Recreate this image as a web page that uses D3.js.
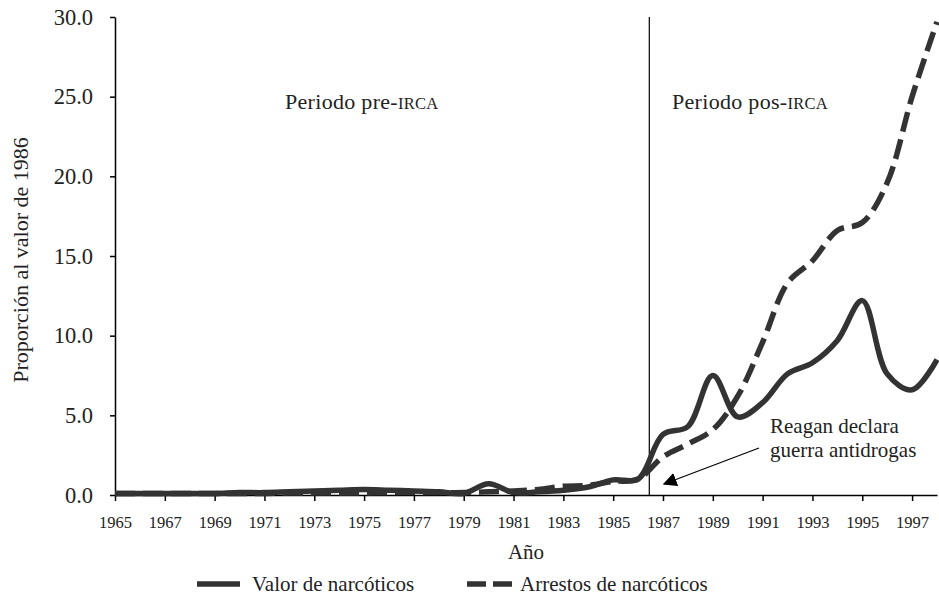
<!DOCTYPE html>
<html>
<head>
<meta charset="utf-8">
<script src="https://cdn.jsdelivr.net/npm/d3@7"></script>
</head>
<body style="margin:0;padding:0;background:#fff">
<svg id="chart" width="939" height="602" style="display:block"></svg>
<script>
const years = d3.range(1965, 1999);
const valorNarcoticos = [0.1, 0.1, 0.1, 0.1, 0.1, 0.15, 0.15, 0.2, 0.25, 0.3, 0.35, 0.3, 0.25, 0.2, 0.1, 0.7, 0.15, 0.2, 0.3, 0.5, 0.95, 1.0, 3.8, 4.3, 7.5, 4.9, 5.8, 7.6, 8.3, 9.7, 12.2, 7.6, 6.6, 8.5];
const arrestosNarcoticos = [0.1, 0.1, 0.1, 0.1, 0.1, 0.1, 0.1, 0.12, 0.12, 0.12, 0.12, 0.15, 0.15, 0.15, 0.15, 0.2, 0.25, 0.35, 0.55, 0.6, 0.85, 1.0, 2.4, 3.2, 4.1, 6.2, 9.6, 13.3, 14.7, 16.6, 17.1, 19.6, 25.0, 29.7];
const yTicks = [0, 5, 10, 15, 20, 25, 30];
const xTickYears = d3.range(1965, 1998, 2);
const seriesNames = ["Valor de narcóticos", "Arrestos de narcóticos"];
const ircaYear = 1986.45;

const FONT = "Liberation Serif";
const svg = d3.select("#chart");
const x = d3.scaleLinear().domain([1965, 1998]).range([115, 937]);
const y = d3.scaleLinear().domain([0, 30]).range([495, 17]);

function txt(sel, size) {
  return sel.attr("font-family", FONT).style("font-family", FONT).style("font-size", size + "px").style("fill", "#222");
}

// Y axis
const yAxis = svg.append("g").attr("transform", "translate(115,0)")
  .call(d3.axisLeft(y).tickValues(yTicks).tickFormat(d3.format(".1f")).tickSize(5).tickPadding(17).tickSizeOuter(0));
yAxis.attr("font-family", FONT);
txt(yAxis.selectAll("text"), 22.5);
yAxis.select(".domain").attr("stroke", "#000").attr("stroke-width", 1.5);
yAxis.selectAll(".tick line").attr("stroke", "#000").attr("stroke-width", 1.5);

// X axis
const xAxis = svg.append("g").attr("transform", "translate(0,495)")
  .call(d3.axisBottom(x).tickValues(xTickYears).tickFormat(d3.format("d")).tickSize(6).tickPadding(15).tickSizeOuter(0));
xAxis.attr("font-family", FONT);
txt(xAxis.selectAll("text"), 16.5);
xAxis.select(".domain").attr("stroke", "#000").attr("stroke-width", 1.5);
xAxis.selectAll(".tick line").attr("stroke", "#000").attr("stroke-width", 1.5);

// IRCA vertical line
svg.append("line").attr("x1", x(ircaYear)).attr("x2", x(ircaYear))
  .attr("y1", y(30)).attr("y2", y(0)).attr("stroke", "#000").attr("stroke-width", 1.2);

// Period labels
function periodLabel(xp, before) {
  const t = txt(svg.append("text").attr("x", xp).attr("y", 109), 22).style("letter-spacing", "0.3px");
  t.append("tspan").text(before);
  t.append("tspan").style("font-size", "16.5px").text("IRCA");
}
periodLabel(285, "Periodo pre-");
periodLabel(672, "Periodo pos-");

// Lines
const line = d3.line().x((d, i) => x(years[i])).y(d => y(d)).curve(d3.curveCatmullRom.alpha(0.5));
svg.append("path").datum(arrestosNarcoticos).attr("d", line)
  .attr("fill", "none").attr("stroke", "#333").attr("stroke-width", 5.5)
  .attr("stroke-dasharray", "20,8");
svg.append("path").datum(valorNarcoticos).attr("d", line)
  .attr("fill", "none").attr("stroke", "#333").attr("stroke-width", 5.5);

// Annotation
txt(svg.append("text").attr("x", 770).attr("y", 433), 21).text("Reagan declara");
txt(svg.append("text").attr("x", 770).attr("y", 457), 21).text("guerra antidrogas");
svg.append("defs").append("marker").attr("id", "arr")
  .attr("viewBox", "0 0 10 10").attr("refX", 9).attr("refY", 5)
  .attr("markerWidth", 14).attr("markerHeight", 14).attr("markerUnits", "userSpaceOnUse")
  .attr("orient", "auto")
  .append("path").attr("d", "M0,0 L10,5 L0,10 Z").attr("fill", "#000");
svg.append("line").attr("x1", 759).attr("y1", 448).attr("x2", 664).attr("y2", 484)
  .attr("stroke", "#000").attr("stroke-width", 1.2).attr("marker-end", "url(#arr)");

// Axis titles
txt(svg.append("text").attr("x", 526).attr("y", 559).attr("text-anchor", "middle"), 21).text("Año");
txt(svg.append("text").attr("transform", "translate(28,260) rotate(-90)").attr("text-anchor", "middle"), 22).text("Proporción al valor de 1986");

// Legend
const ly = 584;
svg.append("line").attr("x1", 197).attr("x2", 240).attr("y1", ly).attr("y2", ly).attr("stroke", "#333").attr("stroke-width", 5.5);
txt(svg.append("text").attr("x", 252).attr("y", ly + 7), 21).text(seriesNames[0]);
svg.append("line").attr("x1", 467).attr("x2", 512).attr("y1", ly).attr("y2", ly).attr("stroke", "#333").attr("stroke-width", 5.5).attr("stroke-dasharray", "19,7");
txt(svg.append("text").attr("x", 520).attr("y", ly + 7), 21).text(seriesNames[1]);
</script>
</body>
</html>
